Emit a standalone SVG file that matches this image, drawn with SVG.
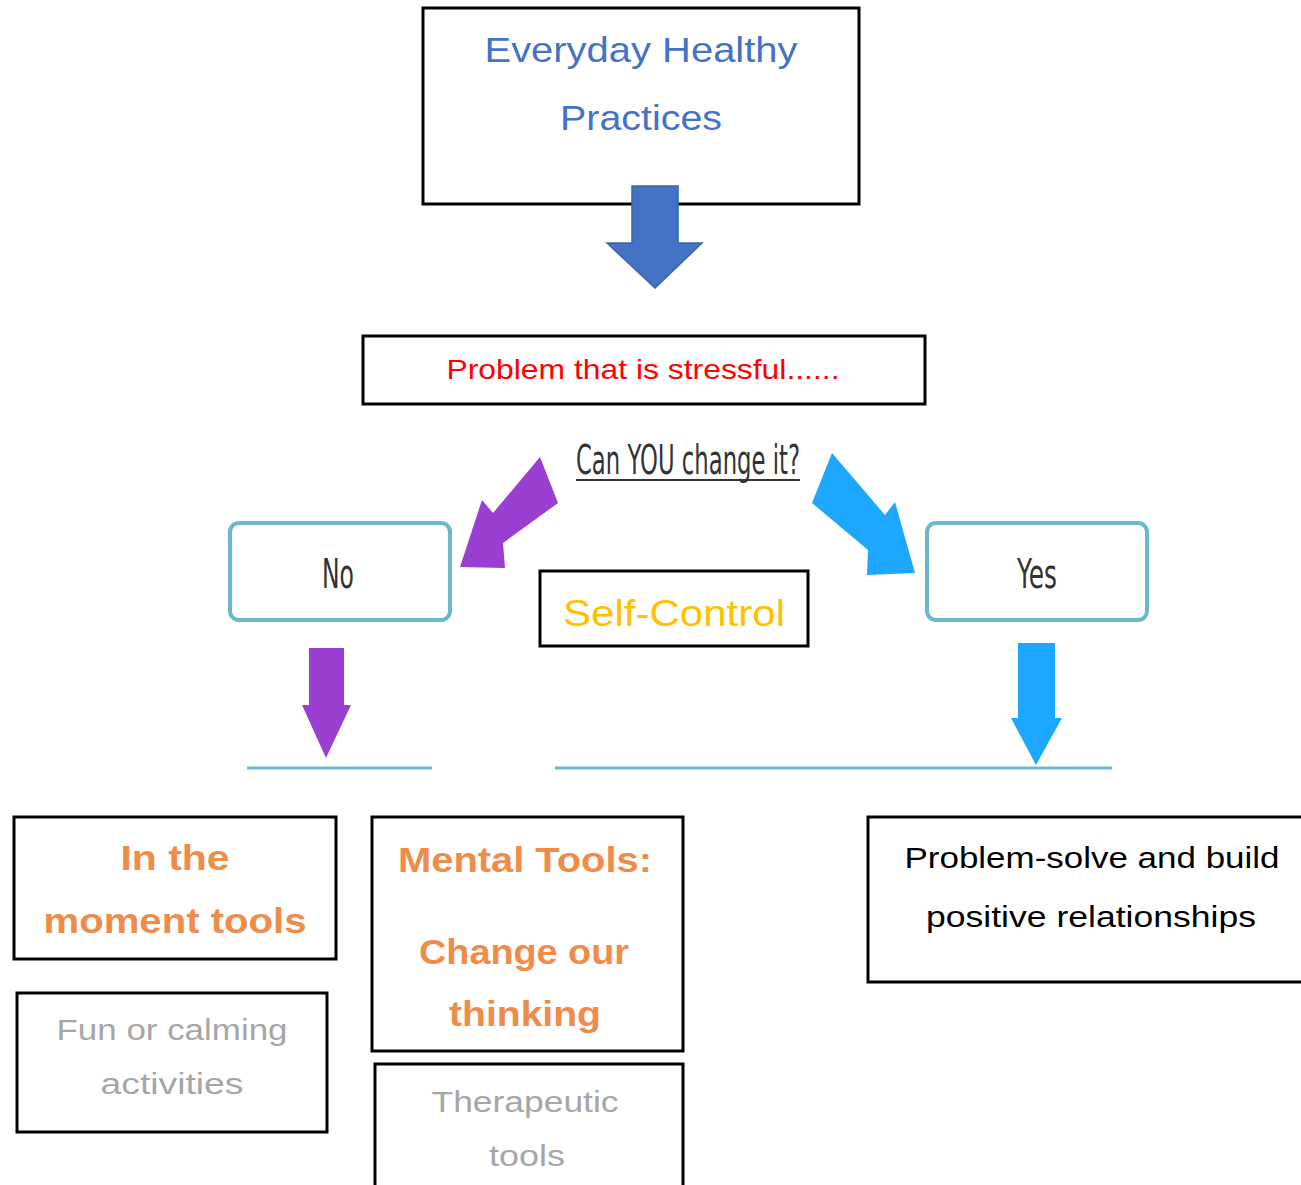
<svg xmlns="http://www.w3.org/2000/svg" width="1301" height="1185" viewBox="0 0 1301 1185">
<style>
.box{fill:#fff;stroke:#000;stroke-width:3}
.rbox{fill:#fff;stroke:#6BB8CC;stroke-width:4}
.t{font-family:"Liberation Sans",Arial,sans-serif;text-anchor:middle}
.blue{fill:#4472C4;font-size:35px}
.red{fill:#FF0000;font-size:28px}
.gold{fill:#FFC000;font-size:37px}
.orange{fill:#F08C4A;font-size:35px;font-weight:bold}
.gray{fill:#A6A6A6;font-size:30px}
.black{fill:#000;font-size:30px}
.hand{font-family:"DejaVu Sans",sans-serif;fill:#333;text-anchor:middle}
.line{stroke:#6BB8CC;stroke-width:3}
</style>
<rect width="1301" height="1185" fill="#fff"/>
<g id="everyday">
<rect class="box" x="423" y="8" width="436" height="196"/>
<text class="t blue" x="641" y="62" textLength="313" lengthAdjust="spacingAndGlyphs">Everyday Healthy</text>
<text class="t blue" x="641" y="130" textLength="162" lengthAdjust="spacingAndGlyphs">Practices</text>
</g>
<g id="problem">
<rect class="box" x="363" y="336" width="562" height="68"/>
<text class="t red" x="643" y="379" textLength="393" lengthAdjust="spacingAndGlyphs">Problem that is stressful......</text>
</g>
<g id="question">
<text class="hand" x="688" y="474" font-size="40" textLength="224" lengthAdjust="spacingAndGlyphs">Can YOU change it?</text>
<line x1="576" y1="480" x2="800" y2="480" stroke="#333" stroke-width="2"/>
</g>
<g id="no">
<rect class="rbox" x="230" y="523" width="220" height="97" rx="9"/>
<text class="hand" x="338" y="588" font-size="40" textLength="32" lengthAdjust="spacingAndGlyphs">No</text>
</g>
<g id="yes">
<rect class="rbox" x="927" y="523" width="220" height="97" rx="9"/>
<text class="hand" x="1037" y="588" font-size="40" textLength="40" lengthAdjust="spacingAndGlyphs">Yes</text>
</g>
<g id="selfcontrol">
<rect class="box" x="540" y="571" width="268" height="75"/>
<text class="t gold" x="674" y="626" textLength="222" lengthAdjust="spacingAndGlyphs">Self-Control</text>
</g>
<g id="inmoment">
<rect class="box" x="14" y="817" width="322" height="142"/>
<text class="t orange" x="175" y="870" textLength="109" lengthAdjust="spacingAndGlyphs">In the</text>
<text class="t orange" x="175" y="933" textLength="263" lengthAdjust="spacingAndGlyphs">moment tools</text>
</g>
<g id="fun">
<rect class="box" x="17" y="993" width="310" height="139"/>
<text class="t gray" x="172" y="1040" textLength="231" lengthAdjust="spacingAndGlyphs">Fun or calming</text>
<text class="t gray" x="172" y="1094" textLength="143" lengthAdjust="spacingAndGlyphs">activities</text>
</g>
<g id="mental">
<rect class="box" x="372" y="817" width="311" height="234"/>
<text class="t orange" x="525" y="872" textLength="254" lengthAdjust="spacingAndGlyphs">Mental Tools:</text>
<text class="t orange" x="524" y="964" textLength="210" lengthAdjust="spacingAndGlyphs">Change our</text>
<text class="t orange" x="525" y="1026" textLength="152" lengthAdjust="spacingAndGlyphs">thinking</text>
</g>
<g id="therapeutic">
<rect class="box" x="375" y="1064" width="308" height="140"/>
<text class="t gray" x="525" y="1112" textLength="187" lengthAdjust="spacingAndGlyphs">Therapeutic</text>
<text class="t gray" x="527" y="1166" textLength="76" lengthAdjust="spacingAndGlyphs">tools</text>
</g>
<g id="problemsolve">
<rect class="box" x="868" y="817" width="440" height="165"/>
<text class="t black" x="1092" y="868" textLength="375" lengthAdjust="spacingAndGlyphs">Problem-solve and build</text>
<text class="t black" x="1091" y="927" textLength="330" lengthAdjust="spacingAndGlyphs">positive relationships</text>
</g>
<g id="connectors">
<polygon points="632,186 678,186 678,243 702,243 655,288 607,243 632,243" fill="#4472C4" stroke="#3A64AE" stroke-width="1.5"/>
<polygon points="540,457 558,503 503,543 505,568 460,567 482,500 493,513" fill="#9B3FD3"/>
<polygon points="832,453 812,503 868,550 867,575 915,573 895,502 885,515" fill="#1EA7FF"/>
<polygon points="309,648 344,648 344,705 351,705 326,758 302,705 309,705" fill="#9B3FD3"/>
<polygon points="1018,643 1055,643 1055,718 1062,718 1036,765 1011,718 1018,718" fill="#1EA7FF"/>
<line class="line" x1="247" y1="768" x2="432" y2="768"/>
<line class="line" x1="555" y1="768" x2="1112" y2="768"/>
</g>
</svg>
